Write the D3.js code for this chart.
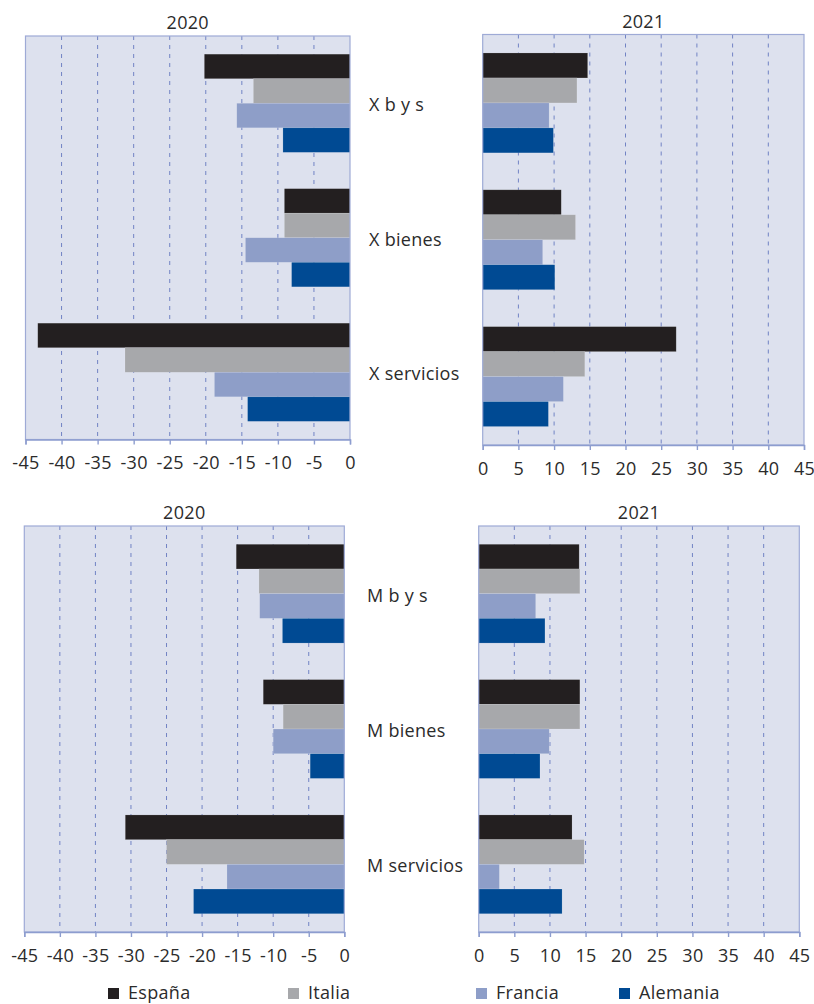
<!DOCTYPE html>
<html>
<head>
<meta charset="utf-8">
<script src="https://cdn.jsdelivr.net/npm/d3@7"></script>
<style>
  html, body { margin: 0; padding: 0; background: #fff; }
  svg text { font-family: "Open Sans", "Noto Sans", sans-serif; fill: #2b2b2b; letter-spacing: 0.3px; }
</style>
</head>
<body>
<svg id="chart" width="814" height="1004"></svg>
<script>
// Series (countries) and categories
const series = ["España", "Italia", "Francia", "Alemania"];
const seriesColors = ["#231f20", "#a7a8ab", "#8e9ec8", "#004a93"];
const catsX = ["X b y s", "X bienes", "X servicios"];
const catsM = ["M b y s", "M bienes", "M servicios"];

// Values per category, in series order (España, Italia, Francia, Alemania)
const xs2020 = [[-20.2, -13.4, -15.7, -9.3], [-9.1, -9.1, -14.5, -8.1], [-43.3, -31.2, -18.8, -14.2]];
const xs2021 = [[14.7, 13.2, 9.3, 9.9], [11.0, 13.0, 8.4, 10.1], [27.1, 14.3, 11.3, 9.2]];
const ms2020 = [[-15.2, -12.0, -11.9, -8.7], [-11.4, -8.6, -10.0, -4.8], [-30.8, -25.0, -16.5, -21.2]];
const ms2021 = [[14.1, 14.2, 8.0, 9.3], [14.2, 14.2, 9.9, 8.6], [13.1, 14.8, 2.9, 11.7]];

// Axis ticks
const ticksNeg = [-45, -40, -35, -30, -25, -20, -15, -10, -5, 0];
const ticksPos = [0, 5, 10, 15, 20, 25, 30, 35, 40, 45];

const FONT = "18px";
const svg = d3.select("#chart");

const panels = [
  { title: "2020", cats: catsX, values: xs2020, domain: [-45, 0], ticks: ticksNeg, x0: 25.5, x1: 350, y0: 36, y1: 439.5, labels: true, labelX: 369 },
  { title: "2021", cats: catsX, values: xs2021, domain: [0, 45], ticks: ticksPos, x0: 482.7, x1: 804, y0: 34.5, y1: 445, labels: false },
  { title: "2020", cats: catsM, values: ms2020, domain: [-45, 0], ticks: ticksNeg, x0: 24.3, x1: 344.3, y0: 526, y1: 932, labels: true, labelX: 367 },
  { title: "2021", cats: catsM, values: ms2021, domain: [0, 45], ticks: ticksPos, x0: 478.7, x1: 799.3, y0: 526, y1: 932, labels: false }
];

panels.forEach(p => {
  const g = svg.append("g");
  const x = d3.scaleLinear().domain(p.domain).range([p.x0, p.x1]);
  const y = d3.scaleBand().domain(p.cats).range([p.y0, p.y1]).paddingInner(0.27).paddingOuter(0.135);
  const ySub = d3.scaleBand().domain(series).range([0, y.bandwidth()]);

  // plot background
  g.append("rect")
    .attr("x", p.x0).attr("y", p.y0)
    .attr("width", p.x1 - p.x0).attr("height", p.y1 - p.y0)
    .attr("fill", "#dde1ee");

  // dashed vertical gridlines
  g.selectAll("line.grid")
    .data(p.ticks.slice(1, -1))
    .join("line")
    .attr("class", "grid")
    .attr("x1", d => x(d)).attr("x2", d => x(d))
    .attr("y1", p.y0).attr("y2", p.y1)
    .attr("stroke", "#7183c4")
    .attr("stroke-width", 1)
    .attr("stroke-dasharray", "4,5");

  // bars
  const groups = g.selectAll("g.cat")
    .data(p.cats.map((c, i) => ({ cat: c, vals: p.values[i] })))
    .join("g")
    .attr("transform", d => `translate(0,${y(d.cat)})`);

  groups.selectAll("rect")
    .data(d => d.vals.map((v, j) => ({ v, s: series[j], j })))
    .join("rect")
    .attr("x", d => Math.min(x(0), x(d.v)))
    .attr("y", d => ySub(d.s))
    .attr("width", d => Math.abs(x(d.v) - x(0)))
    .attr("height", ySub.bandwidth())
    .attr("fill", d => seriesColors[d.j])
    .attr("stroke", "rgba(255,255,255,0.22)")
    .attr("stroke-width", 0.6);

  // plot frame
  g.append("rect")
    .attr("x", p.x0).attr("y", p.y0)
    .attr("width", p.x1 - p.x0).attr("height", p.y1 - p.y0)
    .attr("fill", "none")
    .attr("stroke", "#9eaad6")
    .attr("stroke-width", 1.2);

  // bottom axis (plain hyphen for negatives)
  const axis = d3.axisBottom(x).tickValues(p.ticks).tickSize(5).tickPadding(12).tickFormat(d => String(d));
  const ax = g.append("g")
    .attr("transform", `translate(0,${p.y1})`)
    .call(axis);
  ax.select(".domain").attr("stroke", "#8d9dcf").attr("stroke-width", 1.4);
  ax.selectAll(".tick line").attr("stroke", "#8d9dcf").attr("stroke-width", 1.4);
  ax.selectAll(".tick text")
    .attr("font-size", FONT)
    .attr("fill", "#2b2b2b")
    .style("font-family", "'Open Sans', 'Noto Sans', sans-serif");

  // panel title
  g.append("text")
    .attr("x", (p.x0 + p.x1) / 2)
    .attr("y", p.y0 - 14)
    .attr("text-anchor", "middle")
    .attr("dominant-baseline", "central")
    .attr("font-size", FONT)
    .text(p.title);

  // category labels between the panels
  if (p.labels) {
    g.selectAll("text.cat")
      .data(p.cats)
      .join("text")
      .attr("class", "cat")
      .attr("x", p.labelX)
      .attr("y", d => y(d) + y.bandwidth() / 2 + 1)
      .attr("dominant-baseline", "central")
      .attr("font-size", FONT)
      .text(d => d);
  }
});

// legend
const legendX = [108, 288, 476, 619];
const legend = svg.append("g");
series.forEach((s, i) => {
  legend.append("rect")
    .attr("x", legendX[i]).attr("y", 988)
    .attr("width", 11).attr("height", 11)
    .attr("fill", seriesColors[i]);
  legend.append("text")
    .attr("x", legendX[i] + 20)
    .attr("y", 992)
    .attr("dominant-baseline", "central")
    .attr("font-size", FONT)
    .text(s);
});
</script>
</body>
</html>
